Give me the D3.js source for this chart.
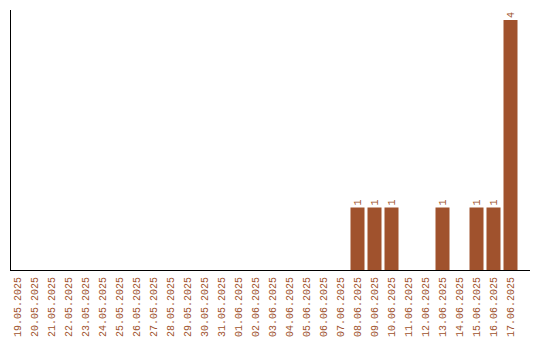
<!DOCTYPE html>
<html>
<head>
<meta charset="utf-8">
<script src="https://cdn.jsdelivr.net/npm/d3@7"></script>
<style>
  html, body { margin: 0; padding: 0; background: #fff; }
  svg { display: block; }
  text { font-family: "Liberation Mono", "DejaVu Sans Mono", monospace; font-size: 10px; fill: #a0522d; }
</style>
</head>
<body>
<svg id="chart" width="540" height="340"></svg>
<script>
// Daily counts, 19.05.2025 – 17.06.2025
const dates = [
  "19.05.2025","20.05.2025","21.05.2025","22.05.2025","23.05.2025","24.05.2025",
  "25.05.2025","26.05.2025","27.05.2025","28.05.2025","29.05.2025","30.05.2025",
  "31.05.2025","01.06.2025","02.06.2025","03.06.2025","04.06.2025","05.06.2025",
  "06.06.2025","07.06.2025","08.06.2025","09.06.2025","10.06.2025","11.06.2025",
  "12.06.2025","13.06.2025","14.06.2025","15.06.2025","16.06.2025","17.06.2025"
];
const counts = [
  0,0,0,0,0,0,
  0,0,0,0,0,0,
  0,0,0,0,0,0,
  0,0,1,1,1,0,
  0,1,0,1,1,4
];

const svg = d3.select("#chart");
const plotLeft = 10, plotRight = 520, plotBase = 270, plotTop = 10;
const barColor = "#a0522d";

const x = d3.scaleBand().domain(dates).range([plotLeft, plotRight]).padding(0);
const y = d3.scaleLinear().domain([0, 4]).range([plotBase, 20]);
const barW = x.bandwidth() - 3;

const data = dates.map((d, i) => ({ date: d, value: counts[i] }));

// bars
svg.append("g").selectAll("rect")
  .data(data.filter(d => d.value > 0))
  .join("rect")
  .attr("x", d => x(d.date) + 0.5)
  .attr("y", d => y(d.value))
  .attr("width", barW)
  .attr("height", d => y(0) - y(d.value))
  .attr("fill", barColor);

// value labels above bars
svg.append("g").selectAll("text")
  .data(data.filter(d => d.value > 0))
  .join("text")
  .attr("transform", d => `translate(${x(d.date) + 0.5 + barW / 2 + 3.5},${y(d.value) - 2}) rotate(-90)`)
  .attr("text-anchor", "start")
  .text(d => d.value);

// axes
svg.append("line")
  .attr("x1", plotLeft + 0.5).attr("x2", plotLeft + 0.5)
  .attr("y1", plotTop).attr("y2", plotBase + 1)
  .attr("stroke", "#000");
svg.append("line")
  .attr("x1", plotLeft).attr("x2", 530)
  .attr("y1", plotBase + 0.5).attr("y2", plotBase + 0.5)
  .attr("stroke", "#000");

// date labels
svg.append("g").selectAll("text")
  .data(dates)
  .join("text")
  .attr("transform", d => `translate(${x(d) + 0.5 + barW / 2 + 3.5},${plotBase + 7}) rotate(-90)`)
  .attr("text-anchor", "end")
  .text(d => d);
</script>
</body>
</html>
